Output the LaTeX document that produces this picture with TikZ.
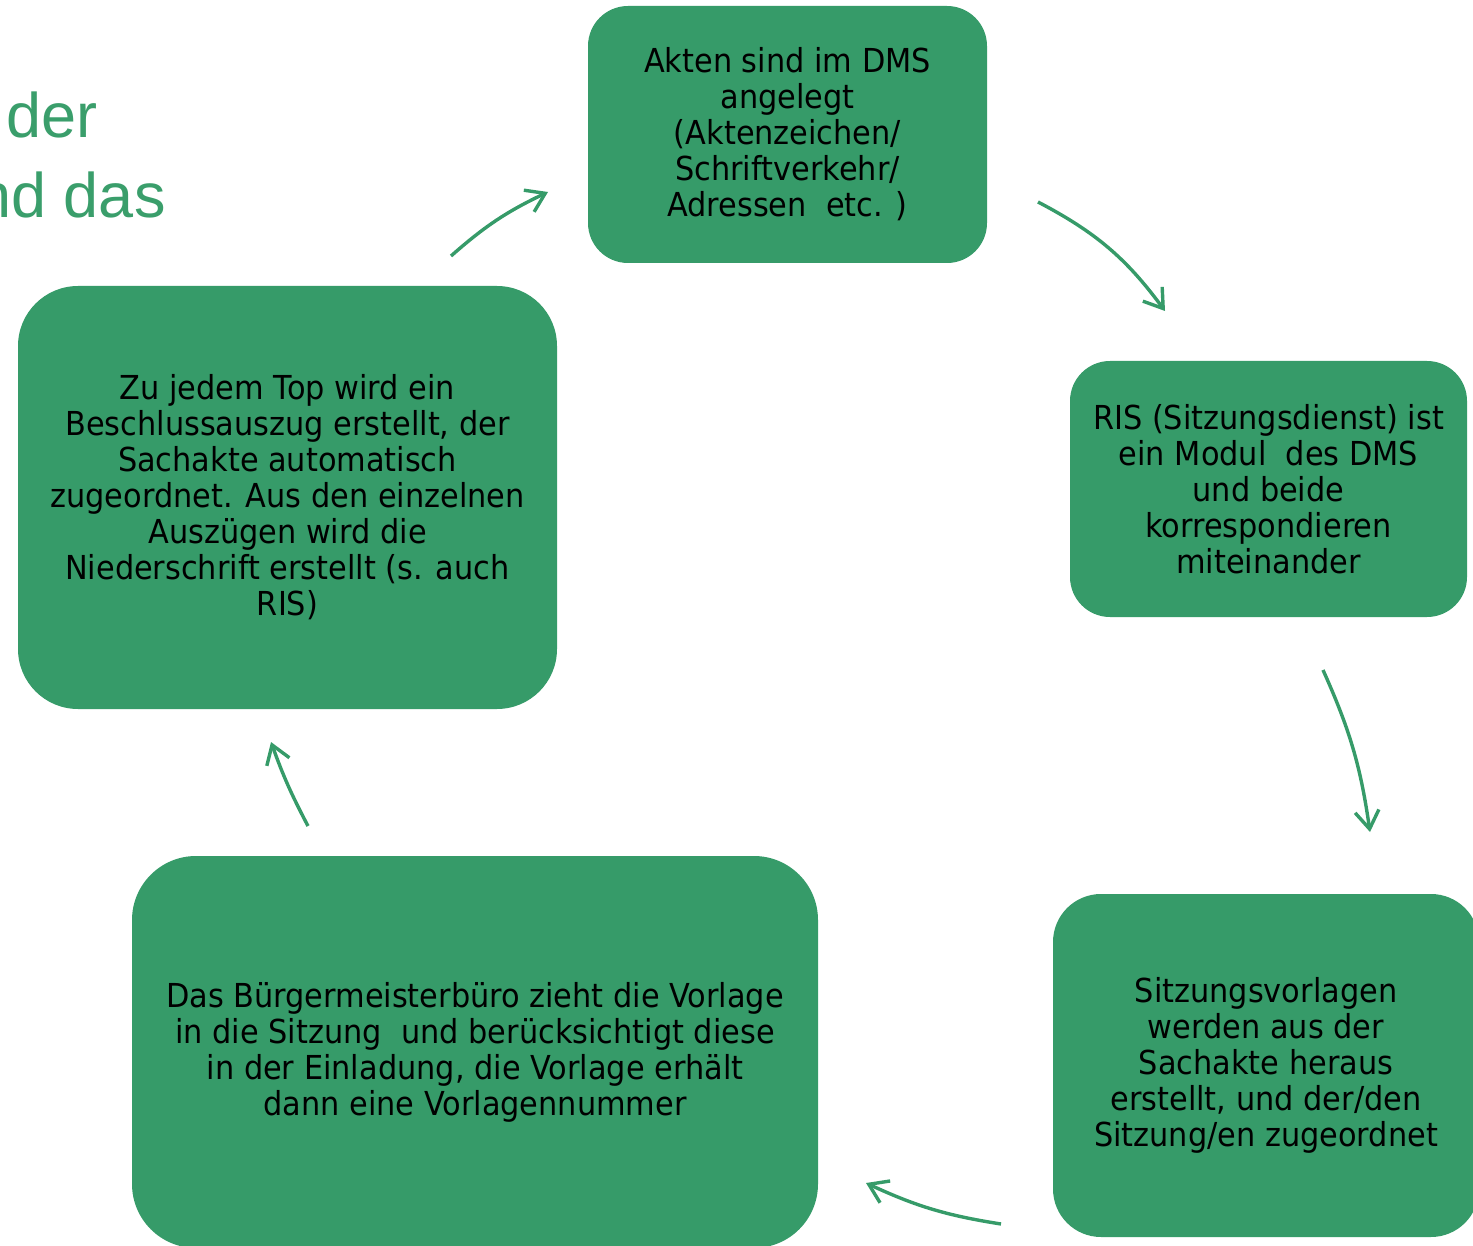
\documentclass[tikz,border=0pt]{standalone}
\usepackage{fontspec}
\setmainfont{DejaVu Sans}[FakeStretch=0.92]
\newfontfamily\titlefont{Liberation Sans}
\usetikzlibrary{positioning, arrows.meta, calc}
\usepackage{xcolor}
\definecolor{dmsgreen}{HTML}{369B69}
\definecolor{dmstitle}{HTML}{3A9E6B}

\begin{document}
\begin{tikzpicture}[x=0.5pt, y=-0.5pt,
    stepbox/.style={fill=dmsgreen, text=black, align=center, inner sep=0pt, font=\fontsize{16.5}{18}\selectfont},
    cyclearrow/.style={draw=dmsgreen, line width=1.7pt, -{Straight Barb[length=9pt,width=12pt]}}]
        \clip (0,0) rectangle (1473,1246);
        \node[font=\titlefont\fontsize{31.5}{40}\selectfont, text=dmstitle, anchor=base east, inner sep=0pt] (titleone) at (98,138) {der};
        \node[font=\titlefont\fontsize{31.5}{40}\selectfont, text=dmstitle, anchor=base east, inner sep=0pt] (titletwo) at (166,218) {nd das};
        \node[stepbox, minimum width=199.5pt, minimum height=128.5pt, rounded corners=20pt] (akten) at (787.5,134.5) {Akten sind im DMS\\angelegt\\(Aktenzeichen/\\Schriftverkehr/\\Adressen~ etc. )};
        \node[stepbox, minimum width=198.5pt, minimum height=128pt, rounded corners=20pt] (ris) at (1268.5,489) {RIS (Sitzungsdienst) ist\\ein Modul~ des DMS\\und beide\\korrespondieren\\miteinander};
        \node[stepbox, minimum width=213pt, minimum height=171.5pt, rounded corners=24pt] (vorlagen) at (1266,1065.5) {Sitzungsvorlagen\\werden aus der\\Sachakte heraus\\erstellt, und der/den\\Sitzung/en zugeordnet};
        \node[stepbox, minimum width=343pt, minimum height=196pt, rounded corners=32pt] (buero) at (475,1052) {Das Bürgermeisterbüro zieht die Vorlage\\in die Sitzung~ und berücksichtigt diese\\in der Einladung, die Vorlage erhält\\dann eine Vorlagennummer};
        \node[stepbox, minimum width=269.5pt, minimum height=211.5pt, rounded corners=30pt] (auszug) at (287.5,497.5) {Zu jedem Top wird ein\\Beschlussauszug erstellt, der\\Sachakte automatisch\\zugeordnet. Aus den einzelnen\\Auszügen wird die\\Niederschrift erstellt (s. auch\\RIS)};
        \coordinate (auszugout) at (451,256); \coordinate (aktenin) at (548,192);
        \coordinate (aktenout) at (1038,202); \coordinate (risin) at (1165,311);
        \coordinate (risout) at (1323,670); \coordinate (vorlagenin) at (1370,832);
        \coordinate (vorlagenout) at (1001,1224); \coordinate (bueroin) at (866,1183);
        \coordinate (bueroout) at (308,826); \coordinate (auszugin) at (271,742);
        \draw[cyclearrow] (auszugout) to[bend left=8] (aktenin);
        \draw[cyclearrow] (aktenout) to[bend left=13] (risin);
        \draw[cyclearrow] (risout) to[bend left=8] (vorlagenin);
        \draw[cyclearrow] (vorlagenout) to[bend left=8] (bueroin);
        \draw[cyclearrow] (bueroout) to[bend left=4] (auszugin);
      \end{tikzpicture}
\end{document}
